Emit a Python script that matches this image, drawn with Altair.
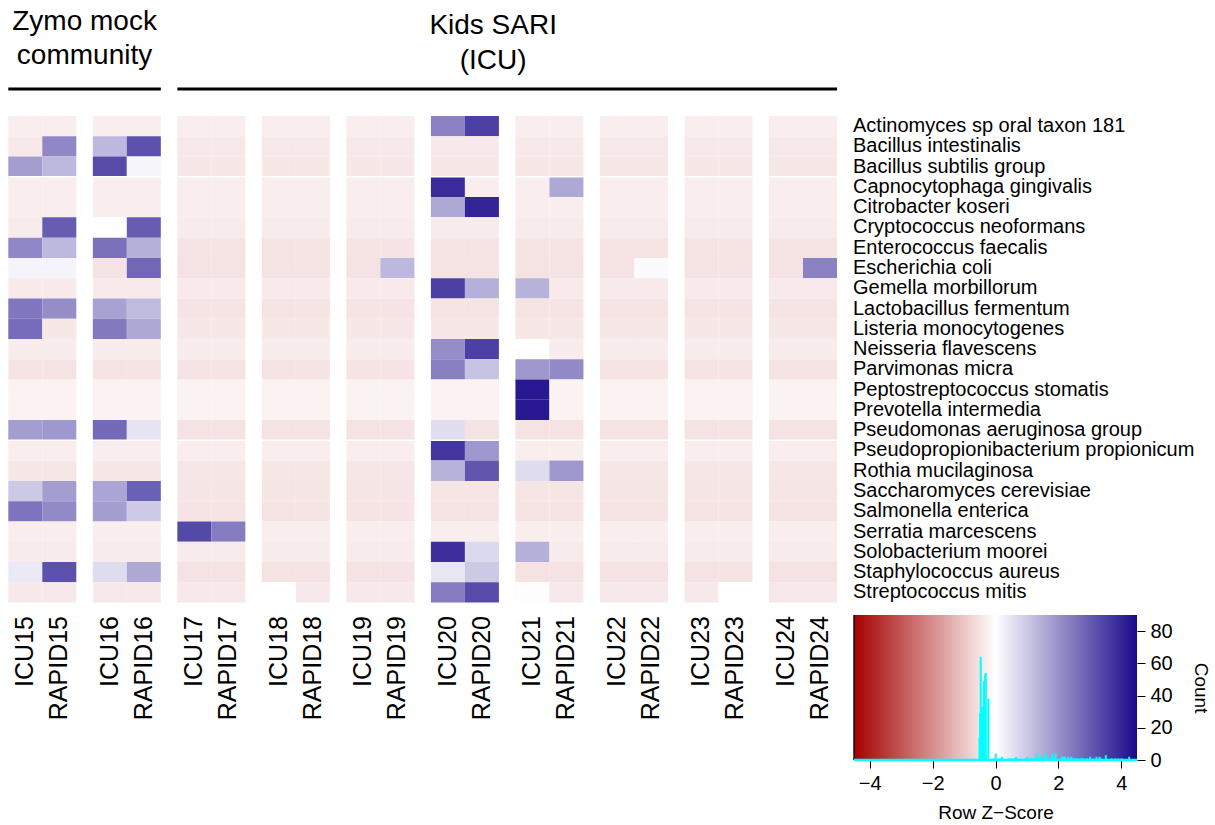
import altair as alt
import pandas as pd

FONT = "Liberation Sans"

species = [
    "Actinomyces sp oral taxon 181", "Bacillus intestinalis", "Bacillus subtilis group",
    "Capnocytophaga gingivalis", "Citrobacter koseri", "Cryptococcus neoformans",
    "Enterococcus faecalis", "Escherichia coli", "Gemella morbillorum",
    "Lactobacillus fermentum", "Listeria monocytogenes", "Neisseria flavescens",
    "Parvimonas micra", "Peptostreptococcus stomatis", "Prevotella intermedia",
    "Pseudomonas aeruginosa group", "Pseudopropionibacterium propionicum",
    "Rothia mucilaginosa", "Saccharomyces cerevisiae", "Salmonella enterica",
    "Serratia marcescens", "Solobacterium moorei", "Staphylococcus aureus",
    "Streptococcus mitis",
]

samples = ["ICU15", "RAPID15", "ICU16", "RAPID16", "ICU17", "RAPID17", "ICU18", "RAPID18",
           "ICU19", "RAPID19", "ICU20", "RAPID20", "ICU21", "RAPID21", "ICU22", "RAPID22",
           "ICU23", "RAPID23", "ICU24", "RAPID24"]

# row z-scores, columns in the order of `samples`
z_actinomyces = [-0.32, -0.32, -0.32, -0.32, -0.32, -0.32, -0.32, -0.32, -0.32, -0.32, 2.30, 3.50, -0.32, -0.32, -0.32, -0.32, -0.32, -0.32, -0.32, -0.32]
z_bac_intest = [-0.39, 2.20, 1.30, 3.20, -0.39, -0.39, -0.39, -0.39, -0.39, -0.39, -0.39, -0.39, -0.39, -0.39, -0.39, -0.39, -0.39, -0.39, -0.39, -0.39]
z_bac_subtilis = [1.80, 1.30, 3.30, 0.15, -0.41, -0.41, -0.41, -0.41, -0.41, -0.41, -0.41, -0.41, -0.41, -0.41, -0.41, -0.41, -0.41, -0.41, -0.41, -0.41]
z_capnocyto = [-0.31, -0.31, -0.31, -0.31, -0.31, -0.31, -0.31, -0.31, -0.31, -0.31, 3.90, -0.31, -0.31, 1.60, -0.31, -0.31, -0.31, -0.31, -0.31, -0.31]
z_citrobacter = [-0.31, -0.31, -0.31, -0.31, -0.31, -0.31, -0.31, -0.31, -0.31, -0.31, 1.60, 4.00, -0.31, -0.31, -0.31, -0.31, -0.31, -0.31, -0.31, -0.31]
z_cryptococcus = [-0.36, 3.00, 0.02, 3.00, -0.36, -0.36, -0.36, -0.36, -0.36, -0.36, -0.36, -0.36, -0.36, -0.36, -0.36, -0.36, -0.36, -0.36, -0.36, -0.36]
z_enterococcus = [2.20, 1.30, 2.60, 1.45, -0.47, -0.47, -0.47, -0.47, -0.47, -0.47, -0.47, -0.47, -0.47, -0.47, -0.47, -0.47, -0.47, -0.47, -0.47, -0.47]
z_ecoli = [0.20, 0.20, -0.50, 2.80, -0.49, -0.49, -0.49, -0.49, -0.49, 1.30, -0.49, -0.49, -0.49, -0.49, -0.49, 0.08, -0.49, -0.49, -0.49, 2.30]
z_gemella = [-0.37, -0.37, -0.37, -0.37, -0.37, -0.37, -0.37, -0.37, -0.37, -0.37, 3.50, 1.45, 1.40, -0.37, -0.37, -0.37, -0.37, -0.37, -0.37, -0.37]
z_lactobacillus = [2.50, 2.10, 1.70, 1.25, -0.47, -0.47, -0.47, -0.47, -0.47, -0.47, -0.47, -0.47, -0.47, -0.47, -0.47, -0.47, -0.47, -0.47, -0.47, -0.47]
z_listeria = [2.70, -0.40, 2.45, 1.60, -0.40, -0.40, -0.40, -0.40, -0.40, -0.40, -0.40, -0.40, -0.40, -0.40, -0.40, -0.40, -0.40, -0.40, -0.40, -0.40]
z_neisseria = [-0.33, -0.33, -0.33, -0.33, -0.33, -0.33, -0.33, -0.33, -0.33, -0.33, 2.10, 3.50, 0.00, -0.33, -0.33, -0.33, -0.33, -0.33, -0.33, -0.33]
z_parvimonas = [-0.47, -0.47, -0.47, -0.47, -0.47, -0.47, -0.47, -0.47, -0.47, -0.47, 2.35, 1.10, 1.90, 2.15, -0.47, -0.47, -0.47, -0.47, -0.47, -0.47]
z_peptostrep = [-0.224, -0.224, -0.224, -0.224, -0.224, -0.224, -0.224, -0.224, -0.224, -0.224, -0.224, -0.224, 4.25, -0.224, -0.224, -0.224, -0.224, -0.224, -0.224, -0.224]
z_prevotella = [-0.224, -0.224, -0.224, -0.224, -0.224, -0.224, -0.224, -0.224, -0.224, -0.224, -0.224, -0.224, 4.25, -0.224, -0.224, -0.224, -0.224, -0.224, -0.224, -0.224]
z_pseudomonas = [1.80, 1.90, 2.75, 0.50, -0.50, -0.50, -0.50, -0.50, -0.50, -0.50, 0.60, -0.50, -0.50, -0.50, -0.50, -0.50, -0.50, -0.50, -0.50, -0.50]
z_pseudoprop = [-0.31, -0.31, -0.31, -0.31, -0.31, -0.31, -0.31, -0.31, -0.31, -0.31, 3.70, 1.90, -0.31, -0.31, -0.31, -0.31, -0.31, -0.31, -0.31, -0.31]
z_rothia = [-0.44, -0.44, -0.44, -0.44, -0.44, -0.44, -0.44, -0.44, -0.44, -0.44, 1.40, 3.10, 0.65, 1.90, -0.44, -0.44, -0.44, -0.44, -0.44, -0.44]
z_saccharomyces = [1.00, 1.80, 1.65, 2.90, -0.46, -0.46, -0.46, -0.46, -0.46, -0.46, -0.46, -0.46, -0.46, -0.46, -0.46, -0.46, -0.46, -0.46, -0.46, -0.46]
z_salmonella = [2.55, 2.15, 1.80, 0.95, -0.47, -0.47, -0.47, -0.47, -0.47, -0.47, -0.47, -0.47, -0.47, -0.47, -0.47, -0.47, -0.47, -0.47, -0.47, -0.47]
z_serratia = [-0.32, -0.32, -0.32, -0.32, 3.35, 2.40, -0.32, -0.32, -0.32, -0.32, -0.32, -0.32, -0.32, -0.32, -0.32, -0.32, -0.32, -0.32, -0.32, -0.32]
z_solobacterium = [-0.35, -0.35, -0.35, -0.35, -0.35, -0.35, -0.35, -0.35, -0.35, -0.35, 3.80, 0.70, 1.45, -0.35, -0.35, -0.35, -0.35, -0.35, -0.35, -0.35]
z_staph = [0.40, 3.20, 0.65, 1.60, -0.52, -0.52, -0.52, -0.52, -0.52, -0.52, 0.45, 1.00, -0.52, -0.52, -0.52, -0.52, -0.52, -0.52, -0.52, -0.52]
z_strep_mitis = [-0.38, -0.38, -0.38, -0.38, -0.38, -0.38, 0.00, -0.38, -0.38, -0.38, 2.40, 3.30, -0.05, -0.38, -0.38, -0.38, -0.38, 0.00, -0.38, -0.38]

rows = [z_actinomyces, z_bac_intest, z_bac_subtilis, z_capnocyto, z_citrobacter,
        z_cryptococcus, z_enterococcus, z_ecoli, z_gemella, z_lactobacillus, z_listeria,
        z_neisseria, z_parvimonas, z_peptostrep, z_prevotella, z_pseudomonas, z_pseudoprop,
        z_rothia, z_saccharomyces, z_salmonella, z_serratia, z_solobacterium, z_staph,
        z_strep_mitis]

row_breaks = [3, 16]
groups = ["Zymo mock\ncommunity", "Kids SARI\n(ICU)"]
group_first_pair = [0, 2]
group_last_pair = [1, 9]

key_domain = [-4.5, 4.5]
key_ticks = [-4, -2, 0, 2, 4]
count_domain = [0, 90]
count_ticks = [0, 20, 40, 60, 80]

RED, WHITE, BLUE = "#A50000", "#FFFFFF", "#1A0A8A"
GAP = 0.486  # gap between sample pairs, in cell widths

# ---------- build tables ----------
recs = []
for r, (sp, vals) in enumerate(zip(species, rows)):
    for c, (s, v) in enumerate(zip(samples, vals)):
        x0 = c + (c // 2) * GAP
        recs.append(dict(species=sp, sample=s, z=v, x0=x0, x1=x0 + 1, y0=r, y1=r + 1))
df = pd.DataFrame(recs)

n_cols = len(samples)
x_total = n_cols + (n_cols // 2 - 1) * GAP

df_sp = pd.DataFrame({"species": species, "ymid": [i + 0.5 for i in range(len(species))]})
df_sm = pd.DataFrame({"sample": samples,
                      "xmid": [c + (c // 2) * GAP + 0.5 for c in range(n_cols)]})
df_sep = pd.DataFrame({"y": row_breaks})
df_grp = pd.DataFrame({
    "label": groups,
    "start": [p * (2 + GAP) for p in group_first_pair],
    "end": [p * (2 + GAP) + 2 for p in group_last_pair],
})
df_grp["mid"] = (df_grp["start"] + df_grp["end"]) / 2
one = pd.DataFrame({"k": [0]})

heat_x = alt.Scale(domain=[0, x_total], range=[8.3, 837], nice=False, zero=False)
heat_y = alt.Scale(domain=[0, len(species)], range=[116, 602.5], nice=False, zero=False)
color_scale = alt.Scale(domain=[key_domain[0], 0, key_domain[1]], range=[RED, WHITE, BLUE],
                        interpolate="rgb")

cells = alt.Chart(df).mark_rect().encode(
    x=alt.X("x0:Q", scale=heat_x, axis=None), x2="x1:Q",
    y=alt.Y("y0:Q", scale=heat_y, axis=None), y2="y1:Q",
    color=alt.Color("z:Q", scale=color_scale, legend=None),
)

seps = alt.Chart(df_sep).mark_rule(color="white", strokeWidth=1.5).encode(
    y=alt.Y("y:Q", scale=heat_y, axis=None),
    x=alt.XDatum(0, type="quantitative", scale=heat_x, axis=None),
    x2=alt.X2Datum(x_total),
)

sp_text = alt.Chart(df_sp).mark_text(align="left", baseline="middle", fontSize=20,
                                     font=FONT, color="black").encode(
    y=alt.Y("ymid:Q", scale=heat_y, axis=None), x=alt.value(853), text="species:N")

sm_text = alt.Chart(df_sm).mark_text(angle=270, align="right", baseline="middle",
                                     fontSize=25, font=FONT, color="black").encode(
    x=alt.X("xmid:Q", scale=heat_x, axis=None), y=alt.value(616), text="sample:N")

hdr_lines = alt.Chart(df_grp).mark_rule(color="black", strokeWidth=3).encode(
    x=alt.X("start:Q", scale=heat_x, axis=None), x2="end:Q", y=alt.value(89))

hdr_zymo = alt.Chart(df_grp.iloc[[0]]).mark_text(
    lineBreak="\n", fontSize=28, font=FONT, baseline="middle", lineHeight=34,
    color="black").encode(x=alt.X("mid:Q", scale=heat_x, axis=None), y=alt.value(22),
                          text="label:N")
hdr_kids = alt.Chart(df_grp.iloc[[1]]).mark_text(
    lineBreak="\n", fontSize=28, font=FONT, baseline="middle", lineHeight=35, dx=-14,
    color="black").encode(x=alt.X("mid:Q", scale=heat_x, axis=None), y=alt.value(26),
                          text="label:N")

heat = alt.layer(cells, seps, sp_text, sm_text, hdr_lines, hdr_zymo, hdr_kids)

# ---------- colour key with histogram ----------
key_x = alt.Scale(domain=key_domain, range=[854, 1137], nice=False, zero=False)
key_y = alt.Scale(domain=count_domain, range=[760, 615], nice=False, zero=False)
x_axis = alt.Axis(orient="bottom", offset=-65, values=key_ticks, tickSize=8, domain=False,
                  grid=False, labelFontSize=20, labelFont=FONT, labelColor="black",
                  tickColor="black", title="Row Z\u2212Score", titleFontSize=19,
                  titleFont=FONT, titleFontWeight="normal", titleColor="black",
                  titlePadding=10, labelPadding=5)
y_axis = alt.Axis(orient="right", offset=-78, values=count_ticks, tickSize=8, domain=False,
                  grid=False, labelFontSize=20, labelFont=FONT, labelColor="black",
                  tickColor="black", title="Count", titleAngle=90, titleFontSize=19,
                  titleFont=FONT, titleFontWeight="normal", titleColor="black",
                  titlePadding=18, labelPadding=5)

grad = alt.Chart(one).mark_rect(
    fill=alt.Gradient(gradient="linear", x1=0, x2=1, y1=0, y2=0,
                      stops=[alt.GradientStop(offset=0, color=RED),
                             alt.GradientStop(offset=0.5, color=WHITE),
                             alt.GradientStop(offset=1, color=BLUE)])
).encode(
    x=alt.XDatum(key_domain[0], type="quantitative", scale=key_x, axis=x_axis),
    x2=alt.X2Datum(key_domain[1]),
    y=alt.YDatum(count_domain[0], type="quantitative", scale=key_y, axis=y_axis),
    y2=alt.Y2Datum(count_domain[1]),
)

edge = alt.Chart(one).mark_rule(color="#111111", strokeWidth=1.5).encode(
    x=alt.XDatum(key_domain[0], type="quantitative", scale=key_x, axis=x_axis),
    y=alt.YDatum(count_domain[0], type="quantitative", scale=key_y, axis=y_axis),
    y2=alt.Y2Datum(count_domain[1]),
)

zero_line = alt.Chart(one).mark_rule(color="#00FFFF", strokeWidth=2.5).encode(
    x=alt.XDatum(key_domain[0], type="quantitative", scale=key_x, axis=x_axis),
    x2=alt.X2Datum(key_domain[1]),
    y=alt.YDatum(0, type="quantitative", scale=key_y, axis=y_axis),
)

hist = alt.Chart(df).transform_bin(
    "zbin", "z", bin=alt.Bin(extent=key_domain, step=0.02, nice=False)
).transform_aggregate(
    count="count()", groupby=["zbin", "zbin_end"]
).transform_calculate(
    zmid="(datum.zbin + datum.zbin_end) / 2"
).mark_rule(color="#00FFFF", strokeWidth=2).encode(
    x=alt.X("zmid:Q", scale=key_x, axis=x_axis),
    y=alt.Y("count:Q", scale=key_y, axis=y_axis),
    y2=alt.Y2Datum(0),
)

key = alt.layer(grad, edge, zero_line, hist)

chart = alt.layer(heat, key).resolve_scale(
    x="independent", y="independent"
).properties(
    width=1215, height=825, padding=0, autosize="none", background="white"
).configure_view(stroke=None)

chart.save("out.html", embed_options={"renderer": "svg", "actions": False})
